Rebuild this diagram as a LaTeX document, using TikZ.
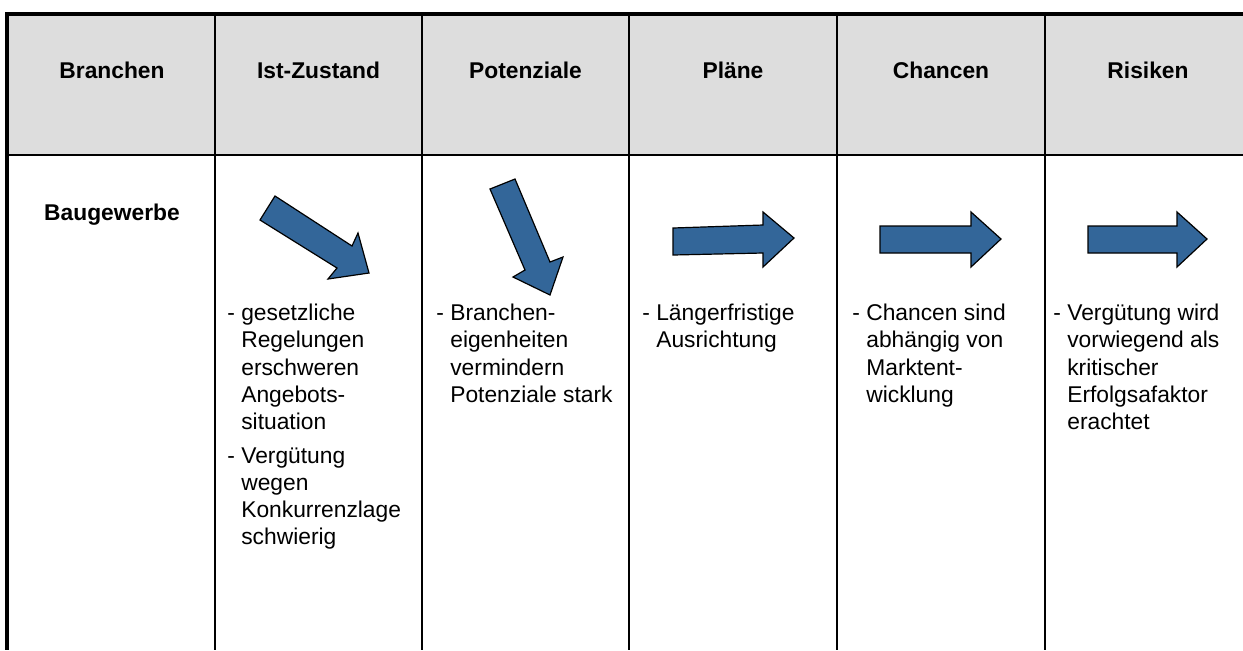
\documentclass[tikz,border=0pt]{standalone}
\usepackage{fontspec}
\setmainfont{Liberation Sans}
\usepackage{xcolor}
\usepackage{tikz}

\definecolor{arrowblue}{HTML}{336699}
\definecolor{headgray}{HTML}{DDDDDD}
\newcommand{\dashind}{\phantom{- }}

\begin{document}
\begin{tikzpicture}[x=0.5pt, y=-0.5pt,
  every node/.style={inner sep=0pt, font=\fontsize{11.4pt}{13.65pt}\selectfont},
  head/.style={anchor=base, font=\fontsize{11.4pt}{13.65pt}\selectfont\bfseries},
  cell/.style={anchor=north west, align=left},
  blockarrow/.style={draw=black, fill=arrowblue, line width=0.6pt},
  gridline/.style={line width=0.75pt},
  outerline/.style={line width=2pt}]

\useasboundingbox (0,0) rectangle (1243,650);

% Table
\fill[headgray] (7,14) rectangle (1243,155);
\foreach \x in {215,422,629,837,1045}
  \draw[gridline] (\x,14) -- (\x,650);
\draw[gridline] (7,155) -- (1243,155);
\draw[outerline] (5,14) -- (1243,14);
\draw[outerline] (7,13) -- (7,650);

% Header
\node[head] (branchen) at (112,78) {Branchen};
\node[head] (istzustand) at (318.5,78) {Ist-Zustand};
\node[head] (potenziale) at (525.5,78) {Potenziale};
\node[head] (plaene) at (733,78) {Pläne};
\node[head] (chancen) at (941,78) {Chancen};
\node[head] (risiken) at (1148,78) {Risiken};

% Row
\node[head] (baugewerbe) at (112,220) {Baugewerbe};

% Arrows
\draw[blockarrow] (260,220) -- (275,196) -- (352,246) -- (358,233) -- (369,273) -- (328,279) -- (337,268) -- cycle;
\draw[blockarrow] (490,189) -- (515,179) -- (550,262) -- (563,257) -- (550,295) -- (513,277) -- (525,270) -- cycle;
\draw[blockarrow] (673,228) -- (763,225) -- (763,212) -- (794,238) -- (763,267) -- (763,253) -- (673,255) -- cycle;
\draw[blockarrow] (880,226) -- (971,226) -- (971,212) -- (1001,239) -- (971,267) -- (971,253) -- (880,253) -- cycle;
\draw[blockarrow] (1088,226) -- (1177,226) -- (1177,212) -- (1207,239) -- (1177,267) -- (1177,253) -- (1088,253) -- cycle;

% Texts
\node[cell] (isttext) at (227,301) {\strut- gesetzliche\\\dashind Regelungen\\\dashind erschweren\\\dashind Angebots-\\\dashind situation\\[3pt]- Vergütung\\\dashind wegen\\\dashind Konkurrenzlage\\\dashind schwierig};
\node[cell] (pottext) at (436,301) {\strut- Branchen-\\\dashind eigenheiten\\\dashind vermindern\\\dashind Potenziale stark};
\node[cell] (plaenetext) at (642,301) {\strut- Längerfristige\\\dashind Ausrichtung};
\node[cell] (chancentext) at (852,301) {\strut- Chancen sind\\\dashind abhängig von\\\dashind Marktent-\\\dashind wicklung};
\node[cell] (risikentext) at (1053,301) {\strut- Vergütung wird\\\dashind vorwiegend als\\\dashind kritischer\\\dashind Erfolgsafaktor\\\dashind erachtet};
\end{tikzpicture}
\end{document}
